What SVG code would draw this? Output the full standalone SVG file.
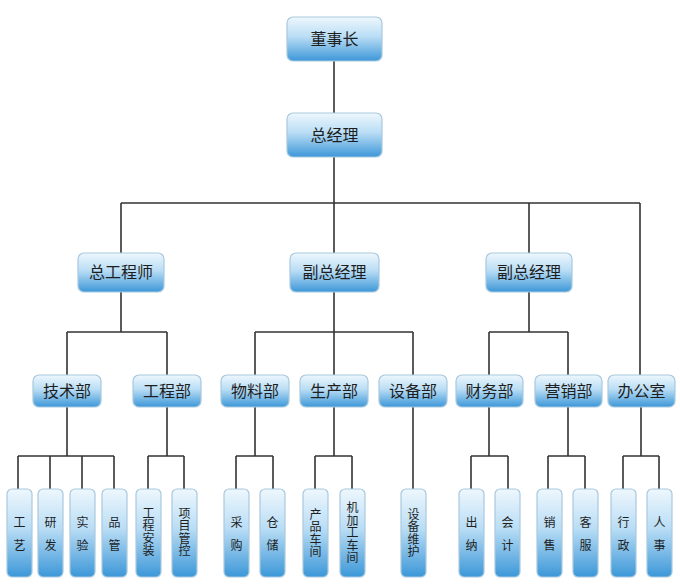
<svg xmlns="http://www.w3.org/2000/svg" width="680" height="586" viewBox="0 0 680 586">
<defs>
<linearGradient id="g" x1="0" y1="0" x2="0" y2="1">
<stop offset="0" stop-color="#eef7fd"/>
<stop offset="0.45" stop-color="#b9ddf5"/>
<stop offset="1" stop-color="#3c97d8"/>
</linearGradient>
<style>
.b{fill:url(#g);stroke:#a9c9de;stroke-width:1.2}
.t{font-family:"Noto Sans CJK SC","Noto Sans",sans-serif;fill:#1e1e1e;text-anchor:middle}
.l{font-size:16px}
.v{font-size:12px;writing-mode:vertical-rl}
.v2{letter-spacing:11px}
.v4{letter-spacing:0.5px}
.c{fill:none;stroke:#333;stroke-width:1.6}
</style>
</defs>
<rect width="680" height="586" fill="#fff"/>
<g id="connectors" class="c">
<path d="M334 61V113"/>
<path d="M334 157V203M121 203H640M121 203V253M334 203V253M529 203V253M640 203V375"/>
<path d="M121 292V332M67 332H167M67 332V375M167 332V375"/>
<path d="M334 292V332M255 332H413M255 332V375M334 332V375M413 332V375"/>
<path d="M529 292V332M489 332H568M489 332V375M568 332V375"/>
<path d="M67 407V456M18 456H114M18 456V489M50 456V489M82 456V489M114 456V489"/>
<path d="M167 407V456M148 456H184M148 456V489M184 456V489"/>
<path d="M255 407V456M236 456H273M236 456V489M273 456V489"/>
<path d="M334 407V456M315 456H352M315 456V489M352 456V489"/>
<path d="M413 407V489"/>
<path d="M489 407V456M471 456H508M471 456V489M508 456V489"/>
<path d="M568 407V456M548 456H585M548 456V489M585 456V489"/>
<path d="M641 407V456M623 456H659M623 456V489M659 456V489"/>
</g>
<g id="n-dsz"><rect class="b" x="287" y="17" width="95" height="44" rx="6"/><text class="t l" x="334.5" y="45">董事长</text></g>
<g id="n-zjl"><rect class="b" x="287" y="113" width="95" height="44" rx="6"/><text class="t l" x="334.5" y="141">总经理</text></g>
<g id="n-zgcs"><rect class="b" x="78" y="253" width="86" height="39" rx="6"/><text class="t l" x="121" y="278">总工程师</text></g>
<g id="n-fzjl1"><rect class="b" x="290" y="253" width="89" height="39" rx="6"/><text class="t l" x="334.5" y="278">副总经理</text></g>
<g id="n-fzjl2"><rect class="b" x="486" y="253" width="86" height="39" rx="6"/><text class="t l" x="529" y="278">副总经理</text></g>
<g id="n-jsb"><rect class="b" x="33" y="375" width="68" height="32" rx="6"/><text class="t l" x="67" y="397">技术部</text></g>
<g id="n-gcb"><rect class="b" x="133" y="375" width="68" height="32" rx="6"/><text class="t l" x="167" y="397">工程部</text></g>
<g id="n-wlb"><rect class="b" x="221" y="375" width="68" height="32" rx="6"/><text class="t l" x="255" y="397">物料部</text></g>
<g id="n-scb"><rect class="b" x="300" y="375" width="68" height="32" rx="6"/><text class="t l" x="334" y="397">生产部</text></g>
<g id="n-sbb"><rect class="b" x="379" y="375" width="68" height="32" rx="6"/><text class="t l" x="413" y="397">设备部</text></g>
<g id="n-cwb"><rect class="b" x="456" y="375" width="67" height="32" rx="6"/><text class="t l" x="489.5" y="397">财务部</text></g>
<g id="n-yxb"><rect class="b" x="535" y="375" width="67" height="32" rx="6"/><text class="t l" x="568.5" y="397">营销部</text></g>
<g id="n-bgs"><rect class="b" x="608" y="375" width="67" height="32" rx="6"/><text class="t l" x="641.5" y="397">办公室</text></g>
<g id="n-gy"><rect class="b" x="7" y="489" width="25" height="88" rx="5"/><text class="t v v2" x="19.5" y="539">工艺</text></g>
<g id="n-yf"><rect class="b" x="38" y="489" width="25" height="88" rx="5"/><text class="t v v2" x="50.5" y="539">研发</text></g>
<g id="n-sy"><rect class="b" x="70" y="489" width="25" height="88" rx="5"/><text class="t v v2" x="82.5" y="539">实验</text></g>
<g id="n-pg"><rect class="b" x="102" y="489" width="25" height="88" rx="5"/><text class="t v v2" x="114.5" y="539">品管</text></g>
<g id="n-gcaz"><rect class="b" x="136" y="489" width="25" height="88" rx="5"/><text class="t v v4" x="148.5" y="532">工程安装</text></g>
<g id="n-xmgk"><rect class="b" x="172" y="489" width="25" height="88" rx="5"/><text class="t v v4" x="184.5" y="532">项目管控</text></g>
<g id="n-cg"><rect class="b" x="224" y="489" width="25" height="88" rx="5"/><text class="t v v2" x="236.5" y="539">采购</text></g>
<g id="n-cc"><rect class="b" x="260" y="489" width="25" height="88" rx="5"/><text class="t v v2" x="272.5" y="539">仓储</text></g>
<g id="n-cpcj"><rect class="b" x="303" y="489" width="25" height="88" rx="5"/><text class="t v v4" x="315.5" y="533">产品车间</text></g>
<g id="n-jjgcj"><rect class="b" x="340" y="489" width="25" height="88" rx="5"/><text class="t v v4" x="352.5" y="533">机加工车间</text></g>
<g id="n-sbwh"><rect class="b" x="401" y="489" width="25" height="88" rx="5"/><text class="t v v4" x="413.5" y="533">设备维护</text></g>
<g id="n-cn"><rect class="b" x="459" y="489" width="25" height="88" rx="5"/><text class="t v v2" x="471.5" y="539">出纳</text></g>
<g id="n-kj"><rect class="b" x="495" y="489" width="25" height="88" rx="5"/><text class="t v v2" x="507.5" y="539">会计</text></g>
<g id="n-xs"><rect class="b" x="537" y="489" width="25" height="88" rx="5"/><text class="t v v2" x="549.5" y="539">销售</text></g>
<g id="n-kf"><rect class="b" x="573" y="489" width="25" height="88" rx="5"/><text class="t v v2" x="585.5" y="539">客服</text></g>
<g id="n-xz"><rect class="b" x="611" y="489" width="25" height="88" rx="5"/><text class="t v v2" x="623.5" y="539">行政</text></g>
<g id="n-rs"><rect class="b" x="647" y="489" width="25" height="88" rx="5"/><text class="t v v2" x="659.5" y="539">人事</text></g>
</svg>
